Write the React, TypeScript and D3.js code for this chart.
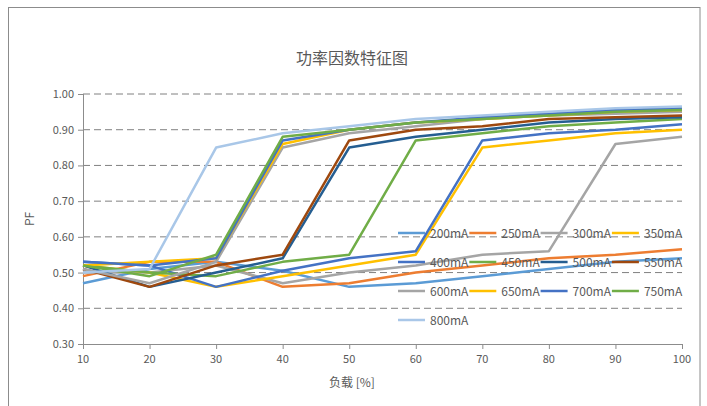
import React from "react";
import * as d3 from "d3";

const loads = [10, 20, 30, 40, 50, 60, 70, 80, 90, 100];
const seriesNames = ["200mA", "250mA", "300mA", "350mA", "400mA", "450mA", "500mA", "550mA", "600mA", "650mA", "700mA", "750mA", "800mA"];
const seriesColors = ["#5B9BD5", "#ED7D31", "#A5A5A5", "#FFC000", "#4472C4", "#70AD47", "#255E91", "#9E480E", "#A5A5A5", "#FFC000", "#4472C4", "#70AD47", "#A9C7E8"];

const s200 = [0.47, 0.51, 0.53, 0.505, 0.46, 0.47, 0.49, 0.51, 0.53, 0.54];
const s250 = [0.49, 0.53, 0.53, 0.46, 0.47, 0.50, 0.52, 0.54, 0.55, 0.565];
const s300 = [0.50, 0.50, 0.52, 0.47, 0.50, 0.52, 0.55, 0.56, 0.86, 0.88];
const s350 = [0.52, 0.50, 0.46, 0.49, 0.52, 0.55, 0.85, 0.87, 0.89, 0.90];
const s400 = [0.53, 0.52, 0.46, 0.505, 0.54, 0.56, 0.87, 0.89, 0.90, 0.915];
const s450 = [0.52, 0.50, 0.49, 0.53, 0.55, 0.87, 0.89, 0.91, 0.92, 0.93];
const s500 = [0.52, 0.46, 0.50, 0.54, 0.85, 0.88, 0.90, 0.92, 0.93, 0.935];
const s550 = [0.51, 0.46, 0.52, 0.55, 0.87, 0.90, 0.91, 0.93, 0.935, 0.94];
const s600 = [0.51, 0.47, 0.53, 0.85, 0.89, 0.91, 0.93, 0.94, 0.945, 0.95];
const s650 = [0.52, 0.53, 0.54, 0.86, 0.90, 0.92, 0.93, 0.94, 0.95, 0.955];
const s700 = [0.53, 0.52, 0.54, 0.87, 0.90, 0.92, 0.935, 0.945, 0.955, 0.96];
const s750 = [0.52, 0.49, 0.55, 0.88, 0.90, 0.92, 0.93, 0.94, 0.95, 0.955];
const s800 = [0.50, 0.51, 0.85, 0.89, 0.91, 0.93, 0.94, 0.95, 0.96, 0.965];
const seriesValues = [s200, s250, s300, s350, s400, s450, s500, s550, s600, s650, s700, s750, s800];

const yTicks = [0.3, 0.4, 0.5, 0.6, 0.7, 0.8, 0.9, 1.0];
const xTicks = [10, 20, 30, 40, 50, 60, 70, 80, 90, 100];

const FONT = "'Noto Sans CJK SC', 'Noto Sans', sans-serif";

export default function App() {
  const W = 707, H = 406;
  const left = 83, right = 682, top = 94, bottom = 344;
  const x = d3.scaleLinear().domain([10, 100]).range([left, right]);
  const y = d3.scaleLinear().domain([0.3, 1.0]).range([bottom, top]);
  const line = d3.line<number>().x((_, i) => x(loads[i])).y((v) => y(v));
  const axisColor = "#8C8C8C";
  const textColor = "#595959";

  const legendX0 = 398, legendY0 = 233, colW = 71.3, rowH = 29;

  return (
    <svg width={W} height={H} style={{ position: "absolute", left: 0, top: 0, background: "#fff" }}>
      <rect x={8.5} y={7.5} width={691.5} height={405} fill="#fff" stroke="#8C8C8C" strokeWidth={1} />
      <text x={352} y={64} textAnchor="middle" fontFamily={FONT} fontSize={16} fill={textColor}>功率因数特征图</text>
      {yTicks.filter((t) => t > 0.3).map((t) => (
        <line key={"g" + t} x1={left} x2={right} y1={y(t)} y2={y(t)} stroke="#808080" strokeWidth={1} strokeDasharray="7,4" />
      ))}
      <line x1={left + 0.5} x2={left + 0.5} y1={top} y2={bottom} stroke={axisColor} strokeWidth={1} />
      <line x1={left} x2={right + 0.5} y1={bottom + 0.5} y2={bottom + 0.5} stroke={axisColor} strokeWidth={1} />
      {yTicks.map((t) => (
        <g key={"yt" + t}>
          <line x1={left - 5} x2={left} y1={y(t) + 0.5} y2={y(t) + 0.5} stroke={axisColor} />
          <text x={left - 9} y={y(t) + 4} textAnchor="end" fontFamily={FONT} fontSize={11} fill={textColor}>{t.toFixed(2)}</text>
        </g>
      ))}
      {xTicks.map((t) => (
        <g key={"xt" + t}>
          <line x1={x(t) + 0.5} x2={x(t) + 0.5} y1={bottom} y2={bottom + 5} stroke={axisColor} />
          <text x={x(t)} y={bottom + 19} textAnchor="middle" fontFamily={FONT} fontSize={11} fill={textColor}>{t}</text>
        </g>
      ))}
      <text x={352} y={387} textAnchor="middle" fontFamily={FONT} fontSize={12} fill={textColor}>负载 [%]</text>
      <text transform={`translate(34, ${(top + bottom) / 2}) rotate(-90)`} textAnchor="middle" fontFamily={FONT} fontSize={12} fill={textColor}>PF</text>
      {seriesValues.map((vals, i) => (
        <path key={"s" + i} d={line(vals) || ""} fill="none" stroke={seriesColors[i]} strokeWidth={2.5} strokeLinejoin="round" />
      ))}
      {seriesNames.map((n, i) => {
        const cx = legendX0 + (i % 4) * colW;
        const cy = legendY0 + Math.floor(i / 4) * rowH;
        return (
          <g key={"l" + i}>
            <line x1={cx} x2={cx + 27} y1={cy} y2={cy} stroke={seriesColors[i]} strokeWidth={2.5} />
            <text x={cx + 32} y={cy + 4.5} fontFamily={FONT} fontSize={12} fill={textColor}>{n}</text>
          </g>
        );
      })}
    </svg>
  );
}
